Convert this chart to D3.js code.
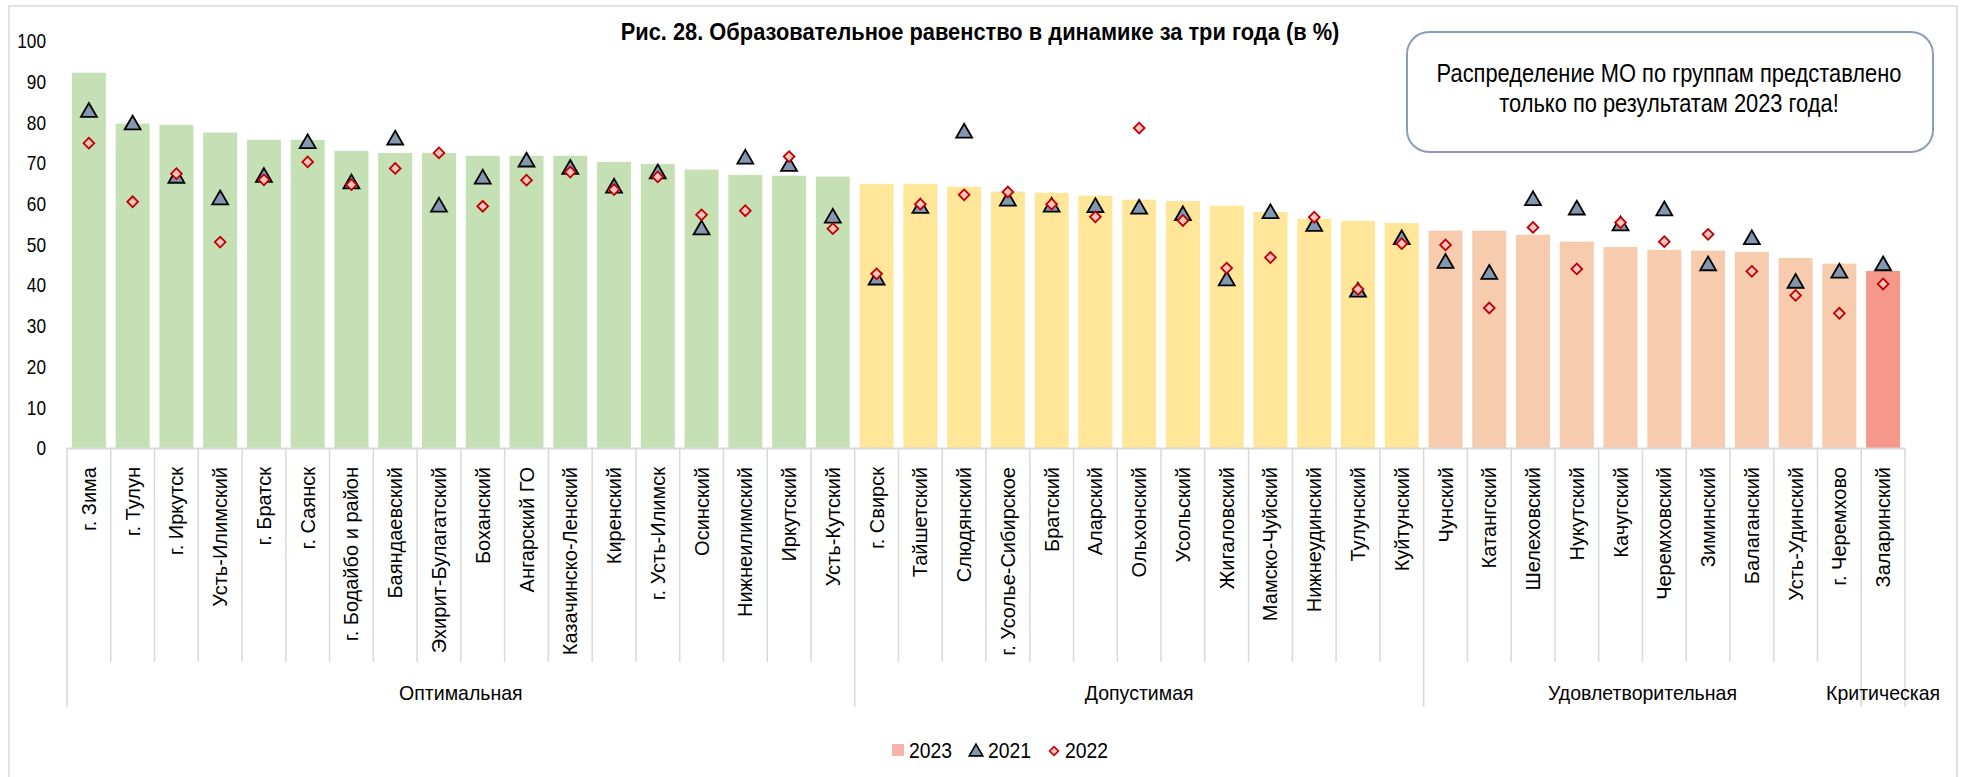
<!DOCTYPE html>
<html lang='ru'>
<head>
<meta charset='UTF-8'>
<title>Рис. 28</title>
<script src='https://d3js.org/d3.v7.min.js'></script>
<style>
  body { margin: 0; background: #fff; }
  svg text { font-family: 'Liberation Sans', Arial, sans-serif; fill: #000; }
</style>
</head>
<body>
<svg id='chart' width='1963' height='777'></svg>
<script>
// municipalities, ordered as in the figure
const districts = ['г. Зима', 'г. Тулун', 'г. Иркутск', 'Усть-Илимский', 'г. Братск', 'г. Саянск',
  'г. Бодайбо и район', 'Баяндаевский', 'Эхирит-Булагатский', 'Боханский', 'Ангарский ГО',
  'Казачинско-Ленский', 'Киренский', 'г. Усть-Илимск', 'Осинский', 'Нижнеилимский', 'Иркутский',
  'Усть-Кутский', 'г. Свирск', 'Тайшетский', 'Слюдянский', 'г. Усолье-Сибирское', 'Братский',
  'Аларский', 'Ольхонский', 'Усольский', 'Жигаловский', 'Мамско-Чуйский', 'Нижнеудинский',
  'Тулунский', 'Куйтунский', 'Чунский', 'Катангский', 'Шелеховский', 'Нукутский', 'Качугский',
  'Черемховский', 'Зиминский', 'Балаганский', 'Усть-Удинский', 'г. Черемхово', 'Заларинский']

const v2023 = [92.2, 79.7, 79.4, 77.5, 75.7, 75.7, 73.0, 72.5, 72.5, 71.8, 71.8, 71.8, 70.3, 69.8,
  68.4, 67.1, 66.9, 66.7, 64.9, 64.9, 64.2, 63.0, 62.7, 62.0, 61.0, 60.7, 59.5, 58.0, 56.3, 55.8,
  55.3, 53.4, 53.4, 52.4, 50.7, 49.4, 48.7, 48.5, 48.2, 46.7, 45.3, 43.5]
const v2021 = [82.5, 79.4, 66.3, 61.0, 66.5, 74.8, 64.9, 75.7, 59.2, 66.1, 70.3, 68.5, 63.9, 67.4,
  53.6, 71.0, 69.2, 56.5, 41.3, 58.9, 77.4, 60.7, 59.2, 59.1, 58.7, 57.1, 41.1, 57.6, 54.5, 38.3,
  51.2, 45.4, 42.7, 60.8, 58.5, 54.6, 58.3, 44.8, 51.2, 40.5, 43.0, 44.8]
const v2022 = [74.9, 60.5, 67.4, 50.6, 65.9, 70.3, 64.7, 68.7, 72.5, 59.4, 65.8, 67.8, 63.5, 66.6,
  57.3, 58.3, 71.6, 53.9, 42.8, 59.9, 62.2, 62.9, 59.9, 56.8, 78.6, 55.9, 44.2, 46.8, 56.7, 39.0,
  50.2, 49.9, 34.4, 54.2, 44.0, 55.4, 50.7, 52.5, 43.4, 37.5, 33.1, 40.3]

// groups (by 2023 result) and how many districts fall in each
const groupNames = ['Оптимальная', 'Допустимая', 'Удовлетворительная', 'Критическая']
const groupSizes = [18, 13, 10, 1]
const groupColors = ['#C5E0B4', '#FFE699', '#F6CBAE', '#F5978A']

const yTicks = [0, 10, 20, 30, 40, 50, 60, 70, 80, 90, 100]

// which group each district belongs to
const groupOf = []
groupSizes.forEach((n, g) => { for (let k = 0; k < n; k++) groupOf.push(g) })

// no Arial Narrow here, so squeeze Liberation Sans horizontally
const narrow = k => `scale(${k},1)`

const svg = d3.select('#chart')
const plotLeft = 67, plotRight = 1905, plotTop = 41, base = 448

svg.append('rect') // outer frame
  .attr('x', 9).attr('y', 6).attr('width', 1948).attr('height', 776)
  .attr('fill', 'none').attr('stroke', '#D9D9D9').attr('stroke-width', 1.5)

const x = d3.scaleBand().domain(districts).range([plotLeft, plotRight])
  .paddingInner(0.223).paddingOuter(0.1115)
const y = d3.scaleLinear().domain([0, 100]).range([base, plotTop])

// y axis, labels only
const yAxis = svg.append('g')
  .attr('transform', `translate(${plotLeft - 21},0)`)
  .call(d3.axisLeft(y).tickValues(yTicks).tickSize(0).tickPadding(0))
yAxis.attr('font-family', null).attr('font-size', null)
yAxis.select('.domain').remove()
yAxis.selectAll('text').attr('font-size', 21).attr('fill', '#000').attr('transform', narrow(0.82))

// bars 2023
svg.append('g').selectAll('rect')
  .data(districts).enter()
  .append('rect')
    .attr('x', d => x(d))
    .attr('width', x.bandwidth())
    .attr('y', (d, i) => y(v2023[i]))
    .attr('height', (d, i) => base - y(v2023[i]))
    .attr('fill', (d, i) => groupColors[groupOf[i]])

// category axis line and separators
const step = x.step()
svg.append('line')
  .attr('x1', plotLeft).attr('x2', plotRight).attr('y1', base + 0.5).attr('y2', base + 0.5)
  .attr('stroke', '#D9D9D9').attr('stroke-width', 2)

const groupEdges = [0]
groupSizes.forEach(n => groupEdges.push(groupEdges[groupEdges.length - 1] + n))

svg.append('g').selectAll('line')
  .data(d3.range(districts.length + 1)).enter()
  .append('line')
    .attr('x1', i => plotLeft + i * step).attr('x2', i => plotLeft + i * step)
    .attr('y1', base)
    .attr('y2', i => groupEdges.includes(i) ? 707 : 662)
    .attr('stroke', '#D9D9D9').attr('stroke-width', 1.5)

// category labels, rotated
svg.append('g').selectAll('text')
  .data(districts).enter()
  .append('text')
    .attr('transform', d => `translate(${x(d) + x.bandwidth() / 2},467) rotate(-90)`)
    .attr('dy', '0.35em')
    .attr('text-anchor', 'end')
    .attr('font-size', 20)
    .text(d => d)

// group labels
svg.append('g').selectAll('text')
  .data(groupNames).enter()
  .append('text')
    .attr('transform', (d, g) =>
      `translate(${plotLeft + (groupEdges[g] + groupEdges[g + 1]) / 2 * step},700) ${narrow(0.93)}`)
    .attr('text-anchor', 'middle')
    .attr('font-size', 21)
    .text(d => d)

// markers 2021 (triangles) and 2022 (diamonds)
const tri = d3.symbol().type(d3.symbolTriangle).size(110)
const dia = d3.symbol().type(d3.symbolSquare).size(58)

svg.append('g').selectAll('path')
  .data(districts).enter()
  .append('path')
    .attr('d', tri)
    .attr('transform', (d, i) => `translate(${x(d) + x.bandwidth() / 2},${y(v2021[i])})`)
    .attr('fill', '#8497B0').attr('stroke', '#000').attr('stroke-width', 1.8)

svg.append('g').selectAll('path')
  .data(districts).enter()
  .append('path')
    .attr('d', dia)
    .attr('transform', (d, i) => `translate(${x(d) + x.bandwidth() / 2},${y(v2022[i])}) rotate(45)`)
    .attr('fill', '#F9C4C0').attr('stroke', '#C00000').attr('stroke-width', 1.8)

// title
svg.append('text')
  .attr('transform', `translate(980,40) ${narrow(0.95)}`)
  .attr('text-anchor', 'middle')
  .attr('font-size', 23).attr('font-weight', 'bold')
  .text('Рис. 28. Образовательное равенство в динамике за три года (в %)')

// note box
svg.append('rect')
  .attr('x', 1407).attr('y', 32).attr('width', 526).attr('height', 120)
  .attr('rx', 22).attr('ry', 22)
  .attr('fill', '#fff').attr('stroke', '#8C9BBE').attr('stroke-width', 2)
svg.append('text')
  .attr('transform', `translate(1669,82) ${narrow(0.875)}`)
  .attr('text-anchor', 'middle').attr('font-size', 25)
  .selectAll('tspan')
  .data(['Распределение МО по группам представлено', 'только по результатам 2023 года!'])
  .enter().append('tspan')
    .attr('x', 0).attr('dy', (d, i) => i ? 30 : 0)
    .text(d => d)

// legend
const legend = svg.append('g')
legend.append('rect')
  .attr('x', 892).attr('y', 744).attr('width', 12).attr('height', 12).attr('fill', '#F4B4AB')
legend.append('path').attr('d', d3.symbol().type(d3.symbolTriangle).size(80))
  .attr('transform', 'translate(976,752)')
  .attr('fill', '#8497B0').attr('stroke', '#000').attr('stroke-width', 1.6)
legend.append('path').attr('d', d3.symbol().type(d3.symbolSquare).size(40))
  .attr('transform', 'translate(1054,751) rotate(45)')
  .attr('fill', '#F9C4C0').attr('stroke', '#C00000').attr('stroke-width', 1.6)
legend.selectAll('text.lbl')
  .data([['2023', 909], ['2021', 988], ['2022', 1065]]).enter()
  .append('text')
    .attr('transform', d => `translate(${d[1]},758) ${narrow(0.88)}`)
    .attr('font-size', 22)
    .text(d => d[0])
</script>
</body>
</html>
